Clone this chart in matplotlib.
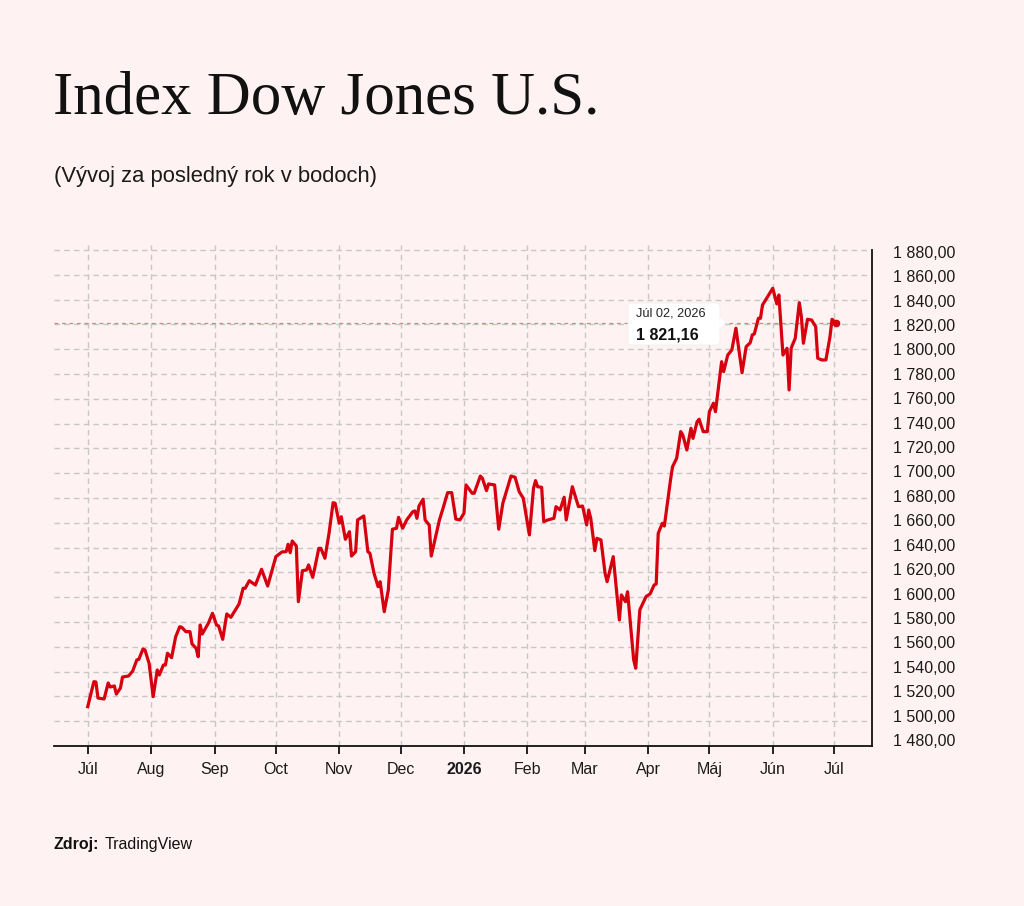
import matplotlib
matplotlib.use("Agg")
import matplotlib.pyplot as plt
from matplotlib.patches import FancyBboxPatch, Polygon
import numpy as np
import pandas as pd

# ---------------- data ----------------
start_date = "2025-07-01"
day_offsets = [0, 3, 4, 5, 8, 10, 11, 13, 14, 16, 17, 20, 22, 24, 25, 27, 28, 30, 32, 34,
               35, 37, 38, 39, 41, 43, 45, 46, 48, 50, 51, 53, 54, 55, 56, 59, 61, 63, 64, 66,
               68, 70, 74, 76, 77, 79, 82, 85, 88, 92, 95, 97, 98, 99, 100, 102, 103, 105,
               107, 108, 110, 111, 113, 114, 116, 118, 120, 121, 123, 124, 126, 128, 129, 131,
               132, 134, 135, 137, 138, 140, 142, 143, 145, 147, 149, 151, 152, 154, 156, 159,
               160, 161, 162, 164, 165, 167, 168, 172, 174, 176, 178, 180, 182, 184, 185, 188,
               189, 192, 193, 195, 196, 199, 201, 203, 207, 209, 211, 213, 216, 218, 219, 220,
               222, 223, 225, 228, 229, 231,
               233, 234, 237, 240, 242, 244, 245, 246, 248, 249, 251, 253, 254, 257, 260, 261,
               263, 264, 267, 268, 270, 273, 275, 277, 278, 279, 281, 282, 285, 286, 288, 290,
               291, 293, 295, 296, 298, 299, 301, 303, 304, 306, 307, 310, 311, 313, 315, 317,
               320, 322, 324, 325, 326, 328, 329, 330, 335, 337, 338, 340, 342, 343, 344, 346,
               348, 349, 350, 352, 354, 356, 357, 359, 361, 363, 364, 366]
index_values = [1511.7, 1531.9, 1531.6, 1518.7, 1517.9, 1530.8, 1527.6, 1528.4, 1521.9, 1526.8,
                1535.6, 1536.5, 1540.5, 1549.4, 1549.9, 1558.2, 1557.4, 1546.7, 1519.8, 1541.3,
                1537.3, 1545.3, 1545.3, 1554.8, 1551.2, 1568.1, 1576.2, 1575.7, 1572.2, 1572.2,
                1562.3, 1558.8, 1552.0, 1577.6, 1570.3, 1579.0, 1587.0, 1577.6, 1576.8, 1566.0,
                1586.5, 1583.8, 1594.5, 1607.2, 1607.2, 1613.3, 1609.8, 1622.5, 1609.0, 1632.7,
                1636.5, 1636.7, 1642.7, 1635.9, 1645.3, 1641.3, 1596.4, 1621.4,
                1621.9, 1626.0, 1616.0, 1623.3, 1639.4, 1639.4, 1631.4, 1651.5, 1676.2, 1675.7,
                1659.6, 1664.9, 1646.7, 1652.8, 1633.2, 1636.7, 1662.3, 1664.4, 1665.5, 1636.7,
                1635.4, 1619.3, 1608.5, 1612.5, 1588.3, 1605.8, 1654.8, 1655.6, 1664.4, 1655.6,
                1662.3, 1669.0, 1669.5, 1663.6, 1673.5, 1679.0, 1662.3, 1658.2, 1633.2, 1662.3,
                1673.0, 1684.3, 1684.3, 1663.0, 1662.3, 1667.7, 1690.5, 1683.8, 1683.8, 1697.7,
                1695.9, 1685.9, 1691.3, 1690.5, 1654.8, 1675.7, 1697.7, 1696.7, 1685.1, 1679.8,
                1650.2, 1687.8, 1694.0, 1689.1, 1688.6, 1660.9, 1662.3, 1663.6, 1673.0, 1670.3,
                1680.6, 1662.3, 1689.1, 1673.0, 1673.5, 1658.2, 1670.3, 1663.6, 1637.5, 1647.5,
                1646.1, 1619.3, 1612.5, 1632.7, 1581.6, 1601.8, 1596.4, 1604.4, 1549.4, 1542.7,
                1589.7, 1600.4, 1602.6, 1609.8, 1610.6, 1651.5, 1659.6, 1657.4, 1694.5, 1705.2,
                1712.0, 1733.5, 1730.8, 1718.7, 1736.2, 1728.1, 1741.5, 1743.5, 1733.5, 1733.5,
                1749.6, 1756.4, 1749.6, 1789.9, 1781.9, 1795.3, 1799.4, 1816.9, 1781.0, 1802.0,
                1805.2, 1811.5, 1812.3, 1824.9, 1824.9, 1835.6, 1849.1, 1836.5, 1843.7, 1795.3,
                1800.7, 1767.1, 1800.7, 1808.8, 1837.5, 1826.2, 1804.8, 1824.1, 1823.5, 1818.1,
                1792.7, 1791.3, 1791.3, 1810.1, 1824.1, 1821.16]

tick_dates = ["2025-07-01", "2025-08-01", "2025-09-01", "2025-10-01", "2025-11-01",
              "2025-12-01", "2026-01-01", "2026-02-01", "2026-03-01", "2026-04-01",
              "2026-05-01", "2026-06-01", "2026-07-01"]
tick_labels = ["Júl", "Aug", "Sep", "Oct", "Nov", "Dec", "2026", "Feb", "Mar", "Apr",
               "Máj", "Jún", "Júl"]
y_ticks = list(range(1480, 1881, 20))

title = "Index Dow Jones U.S."
subtitle = "(Vývoj za posledný rok v bodoch)"
tooltip_date = "Júl 02, 2026"
source_label = "Zdroj:"
source_name = "TradingView"

# ---------------- styling ----------------
BG = "#fff2f2"
RED = "#d7000f"
W, H = 1024, 906
SANS = ["Liberation Sans", "DejaVu Sans"]
SERIF = ["Liberation Serif", "DejaVu Serif"]

plt.rcParams["font.family"] = SANS

def fmt(v):
    return f"{v:,.2f}".replace(",", " ").replace(".", ",")

dates = pd.Timestamp(start_date) + pd.to_timedelta(day_offsets, unit="D")
vals = np.array(index_values)

fig = plt.figure(figsize=(W / 100, H / 100), dpi=100, facecolor=BG)

def px(x, y):
    return x / W, 1 - y / H

ax = fig.add_axes([54 / W, 160 / H, (871.7 - 54) / W, (746 - 245) / H])
ax.set_facecolor(BG)

base = pd.Timestamp(start_date)
ax.set_xlim(base - pd.Timedelta(days=16.5), base + pd.Timedelta(days=383.4))
ax.set_ylim(1480, 1884)

# grid
grid_kw = dict(color="#c8c6c6", lw=1.0, ls=(0, (4, 3)), zorder=0)
for yv in y_ticks:
    ax.axhline(yv, **grid_kw)
for td in tick_dates:
    ax.axvline(pd.Timestamp(td), **grid_kw)

# last-value dashed line
ax.hlines(vals[-1], ax.get_xlim()[0], dates[-1], colors="#f07a7a",
          lw=0.9, ls=(0, (3, 3)), zorder=1)

# series
ax.plot(dates, vals, color=RED, lw=2.3, solid_joinstyle="round", zorder=3)
ax.plot([dates[-1]], [vals[-1]], "o", color=RED, ms=4.5, zorder=4)

# spines
for s in ("left", "top"):
    ax.spines[s].set_visible(False)
ax.spines["right"].set_color("#111111")
ax.spines["right"].set_linewidth(1.3)
ax.spines["right"].set_bounds(1480, 1880)
ax.spines["bottom"].set_color("#111111")
ax.spines["bottom"].set_linewidth(1.3)

# y labels on a twin scale (labels in the reference are packed slightly tighter)
ax2 = ax.twinx()
ax2.set_ylim(1475.1, 1885.5)
for s in ax2.spines.values():
    s.set_visible(False)
ax2.set_yticks(y_ticks)
ax2.set_yticklabels([fmt(v) for v in y_ticks])
ax2.tick_params(axis="y", left=False, right=False, length=0, pad=15, labelsize=11.5,
                labelcolor="#1a1a1a")

ax.set_yticks(y_ticks)
ax.tick_params(axis="y", left=False, right=False, labelleft=False, labelright=False,
               length=0)

# x ticks
ax.set_xticks([pd.Timestamp(d) for d in tick_dates])
ax.set_xticklabels(tick_labels)
ax.tick_params(axis="x", length=5.5, width=1.3, color="#111111", pad=6,
               labelsize=11.5, labelcolor="#1a1a1a")
for lbl in ax.get_xticklabels():
    if lbl.get_text() == "2026":
        lbl.set_fontweight("bold")

# tooltip
bx0, by0, bx1, by1 = 628, 303, 720, 345
box = FancyBboxPatch(px(bx0, by1), (bx1 - bx0) / W, (by1 - by0) / H,
                     boxstyle="round,pad=0,rounding_size=0.004",
                     transform=fig.transFigure, facecolor="white",
                     edgecolor="#eeeeee", lw=0.6, zorder=10)
fig.patches.append(box)
tri = Polygon([px(bx1 - 0.5, 317), px(726, 323), px(bx1 - 0.5, 329)], closed=True,
              transform=fig.transFigure, facecolor="white", edgecolor="none", zorder=11)
fig.patches.append(tri)
fig.text(*px(636.5, 317), tooltip_date, fontsize=9.2, color="#222222",
         va="baseline", ha="left", zorder=12)
fig.text(*px(636.5, 339.5), fmt(vals[-1]),
         fontsize=11.5, fontweight="bold", color="#111111", va="baseline", ha="left",
         zorder=12)

# titles
fig.text(*px(53, 114), title, family=SERIF, fontsize=43.8, color="#111111",
         va="baseline", ha="left")
fig.text(*px(54, 182), subtitle, fontsize=15.8, color="#1a1a1a",
         va="baseline", ha="left")

# footer
t1 = fig.text(*px(54, 849), source_label, fontsize=11.5, fontweight="bold",
              color="#111111", va="baseline", ha="left")
fig.canvas.draw()
bb = t1.get_window_extent(renderer=fig.canvas.get_renderer())
fig.text(bb.x1 / W + 5 / W, 1 - 849 / H, source_name, fontsize=11.5,
         color="#111111", va="baseline", ha="left")

fig.savefig("out.png", dpi=100, facecolor=BG)
